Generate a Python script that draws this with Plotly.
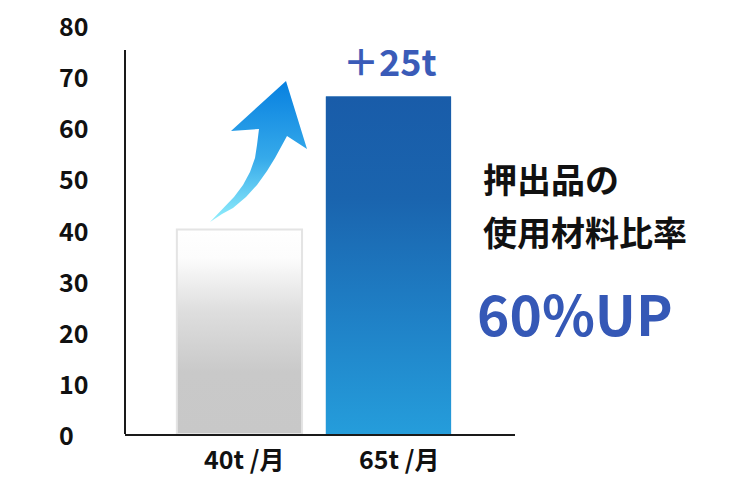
import plotly.graph_objects as go

# ---- data ----
categories = ["40t /月", "65t /月"]
values = [40, 66]
y_tick_vals = [0, 10, 20, 30, 40, 50, 60, 70, 80]
y_tick_text = ["0", "10", "20", "30", "40", "50", "60", "70", "80"]
increase_label = "＋25t"
side_title = ["押出品の", "使用材料比率"]
side_highlight = "60%UP"

FONT = "Noto Sans CJK JP"
OFF = 8  # page body margin
W, H = 734 - OFF, 494 - OFF
# plot area in page pixels: x 125..515, y 25..434
PX0, PX1, PY0, PY1 = 125, 515, 25, 434
ML, MT = PX0 - OFF, PY0 - OFF
MR, MB = W - (PX1 - OFF), H - (PY1 - OFF)
XR = [-0.768, 1.849]
YR = [0, 80]
PW = PX1 - PX0
PH = PY1 - PY0


def px2x(px):
    return XR[0] + (px - PX0) / PW * (XR[1] - XR[0])


def py2y(py):
    return YR[0] + (PY1 - py) / PH * (YR[1] - YR[0])


def px2paper(px):
    return (px - PX0) / PW


def py2paper(py):
    return (PY1 - py) / PH


bar_w = 0.84
fig = go.Figure()

# base bars
fig.add_trace(go.Bar(x=[0, 1], y=values, width=bar_w,
                     marker=dict(color=["#d8d8d8", "#1d72bb"], line=dict(width=0)),
                     hoverinfo="skip", showlegend=False))

# gradient overlays for bars (built from the same values)
grads = [
    dict(colorscale=[[0, "#c8c8c8"], [0.3, "#c9c9c9"], [0.6, "#dedede"], [0.86, "#fcfcfc"], [1, "#ffffff"]],
         line=dict(color="#e4e4e4", width=2)),
    dict(colorscale=[[0, "#259ddb"], [0.35, "#1f80c6"], [0.7, "#1a64ae"], [1, "#195ca9"]],
         line=dict(width=0)),
]
for i, v in enumerate(values):
    xs = [i - bar_w / 2, i + bar_w / 2, i + bar_w / 2, i - bar_w / 2, i - bar_w / 2]
    ys = [0, 0, v, v, 0]
    fig.add_trace(go.Scatter(x=xs, y=ys, mode="lines", fill="toself",
                             fillgradient=dict(type="vertical", colorscale=grads[i]["colorscale"],
                                               start=0, stop=v),
                             line=grads[i]["line"], hoverinfo="skip", showlegend=False))

# decorative curved arrow (pixel outline converted to axis units)
arrow_px = [(210, 222), (222, 214), (233, 208), (246, 197), (257, 185), (267, 171), (275, 158),
            (282, 146), (287, 136), (307, 149), (286, 81), (231, 131), (259, 129),
            (257, 145), (255, 158), (250, 172), (243, 185), (234, 197), (223, 208), (210, 222)]
ax = [px2x(p[0]) for p in arrow_px]
ay = [py2y(p[1]) for p in arrow_px]
fig.add_trace(go.Scatter(x=ax, y=ay, mode="lines", fill="toself",
                         fillgradient=dict(type="vertical",
                                           colorscale=[[0, "#92effc"], [0.45, "#36aaea"], [1, "#0780e0"]],
                                           start=min(ay), stop=max(ay)),
                         line=dict(width=0), hoverinfo="skip", showlegend=False))

annotations = []
# y tick labels, left aligned
for v, t in zip(y_tick_vals, y_tick_text):
    annotations.append(dict(x=px2paper(57), xref="paper", y=v, yref="y", text=t,
                            xanchor="left", yanchor="middle", showarrow=False,
                            font=dict(family=FONT, size=25, color="#111111", weight=700)))
# x category labels
for i, (c, sh) in enumerate(zip(categories, [5, 11])):
    annotations.append(dict(x=i, xref="x", y=py2paper(458), yref="paper", text=c, xshift=sh,
                            xanchor="center", yanchor="middle", showarrow=False,
                            font=dict(family=FONT, size=25, color="#111111", weight=700)))
# increase label
annotations.append(dict(x=px2paper(390), xref="paper", y=py2paper(60), yref="paper",
                        text=increase_label, xanchor="center", yanchor="middle", showarrow=False,
                        font=dict(family=FONT, size=36, color="#3a5bb8", weight=700)))
# side texts
for t, py in zip(side_title, [178, 231]):
    annotations.append(dict(x=px2paper(481), xref="paper", y=py2paper(py), yref="paper",
                            text=t, xanchor="left", yanchor="middle", showarrow=False,
                            font=dict(family=FONT, size=34, color="#111111", weight=700)))
annotations.append(dict(x=px2paper(475), xref="paper", y=py2paper(312), yref="paper",
                        text=side_highlight, xanchor="left", yanchor="middle", showarrow=False,
                        font=dict(family=FONT, size=55, color="#3558b6", weight=700)))

fig.update_layout(
    width=W, height=H,
    margin=dict(l=ML, r=MR, t=MT, b=MB, pad=0),
    paper_bgcolor="white", plot_bgcolor="white",
    showlegend=False,
    xaxis=dict(range=XR, showgrid=False, zeroline=False, showticklabels=False, ticks="",
               showline=True, linecolor="#1a1a1a", linewidth=2, fixedrange=True),
    yaxis=dict(range=YR, showgrid=False, zeroline=False, showticklabels=False, ticks="",
               showline=False, fixedrange=True),
    annotations=annotations,
    shapes=[dict(type="line", xref="paper", yref="y", x0=0, x1=0, y0=0, y1=py2y(50),
                 line=dict(color="#1a1a1a", width=2), layer="above")],
)

fig.write_html("out.html", config={"displayModeBar": False})
